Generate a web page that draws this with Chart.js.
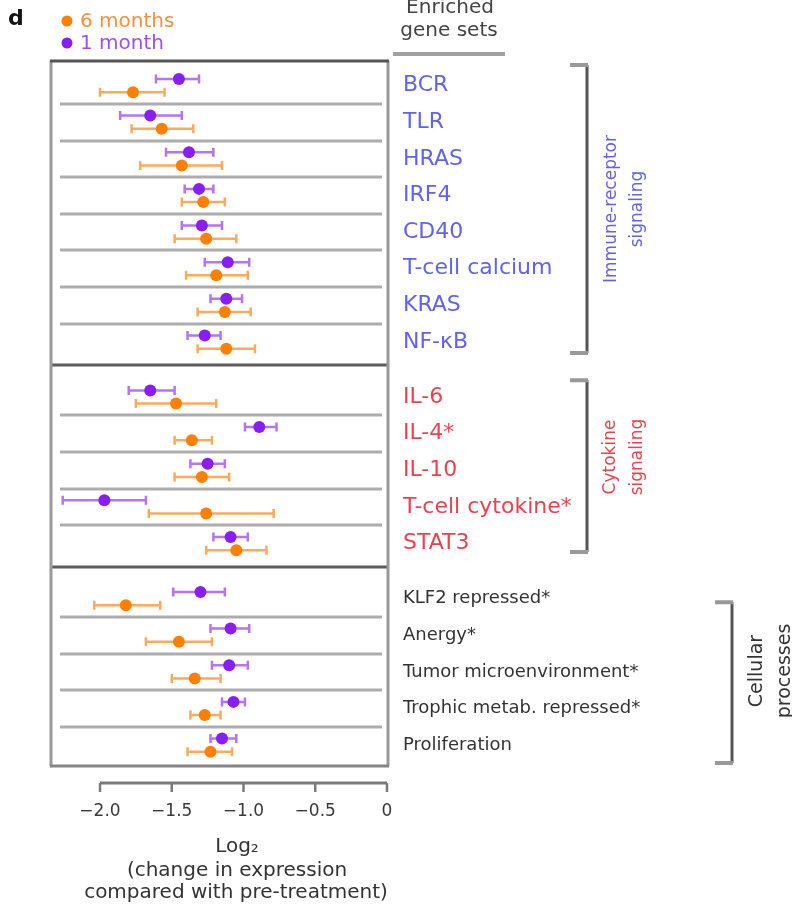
<!DOCTYPE html>
<html>
<head>
<meta charset="utf-8">
<script src="https://cdn.jsdelivr.net/npm/chart.js@4/dist/chart.umd.min.js"></script>
<style>
  html, body { margin: 0; padding: 0; background: #fff; }
  canvas { display: block; }
</style>
</head>
<body>
<canvas id="c" width="792" height="906"></canvas>
<script>
// Enriched gene sets, top to bottom, grouped by pathway family
const geneSets = ['BCR', 'TLR', 'HRAS', 'IRF4', 'CD40', 'T-cell calcium', 'KRAS', 'NF-κB',
  'IL-6', 'IL-4*', 'IL-10', 'T-cell cytokine*', 'STAT3',
  'KLF2 repressed*', 'Anergy*', 'Tumor microenvironment*', 'Trophic metab. repressed*', 'Proliferation'];
const groupNames = [['Immune-receptor', 'signaling'], ['Cytokine', 'signaling'], ['Cellular', 'processes']];
const groupSizes = [8, 5, 5];
const seriesNames = ['6 months', '1 month'];

// Log2 change vs pre-treatment: mean with lower / upper interval bounds
const sixMonthMean = [-1.77, -1.57, -1.43, -1.28, -1.26, -1.19, -1.13, -1.12,
  -1.47, -1.36, -1.29, -1.26, -1.05,
  -1.82, -1.45, -1.34, -1.27, -1.23];
const sixMonthLow = [-2.00, -1.78, -1.72, -1.43, -1.48, -1.40, -1.32, -1.32,
  -1.75, -1.48, -1.48, -1.66, -1.26,
  -2.04, -1.68, -1.50, -1.37, -1.39];
const sixMonthHigh = [-1.55, -1.35, -1.15, -1.13, -1.05, -0.97, -0.95, -0.92,
  -1.19, -1.22, -1.10, -0.79, -0.84,
  -1.58, -1.22, -1.16, -1.16, -1.08];
const oneMonthMean = [-1.45, -1.65, -1.38, -1.31, -1.29, -1.11, -1.12, -1.27,
  -1.65, -0.89, -1.25, -1.97, -1.09,
  -1.30, -1.09, -1.10, -1.07, -1.15];
const oneMonthLow = [-1.61, -1.86, -1.54, -1.41, -1.43, -1.27, -1.23, -1.39,
  -1.80, -0.99, -1.37, -2.26, -1.21,
  -1.49, -1.23, -1.22, -1.15, -1.23];
const oneMonthHigh = [-1.31, -1.43, -1.21, -1.21, -1.15, -0.96, -1.01, -1.16,
  -1.48, -0.77, -1.13, -1.68, -0.97,
  -1.13, -0.96, -0.97, -0.99, -1.05];
const xTickValues = [-2.0, -1.5, -1.0, -0.5, 0];

// ---- layout / styling ----
const FONT = "'DejaVu Sans', 'Liberation Sans', sans-serif";
const groupColors = ['#6262f2', '#f0404e', '#333333'];
const seriesColors = ['#ff8000', '#8a1cf5'];
const barColors = ['#ffaa5a', '#b374f7'];
const GROUP_GAP = 0.5;      // extra row units between group boxes
const PAIR_OFFSET = 0.18;   // vertical split of the two series inside a row

// row positions along the (reversed) y scale
const rowPos = [];
const rowGroup = [];
const groupFirst = [];
const groupLast = [];
{
  let p = 0;
  groupSizes.forEach((n, g) => {
    groupFirst.push(p);
    for (let i = 0; i < n; i++) { rowPos.push(p); rowGroup.push(g); p += 1; }
    groupLast.push(p - 1);
    p += GROUP_GAP;
  });
}
const yMin = rowPos[0] - 0.67;
const yMax = rowPos[rowPos.length - 1] + 0.57;

const means = [sixMonthMean, oneMonthMean];
const lows = [sixMonthLow, oneMonthLow];
const highs = [sixMonthHigh, oneMonthHigh];
const offsets = [PAIR_OFFSET, -PAIR_OFFSET];

const datasets = seriesNames.map((name, s) => ({
  label: name,
  data: means[s].map((v, i) => ({ x: v, y: rowPos[i] + offsets[s] })),
  backgroundColor: seriesColors[s],
  borderWidth: 0,
  pointRadius: 6,
  pointHoverRadius: 6,
  clip: false
}));

function fmtTick(v) {
  if (v === 0) return '0';
  return (v < 0 ? '\u2212' : '') + Math.abs(v).toFixed(1);
}

const panelPlugin = {
  id: 'panel',
  beforeDatasetsDraw(chart) {
    const { ctx, chartArea: a, scales: { x, y } } = chart;
    ctx.save();
    // thin separators between rows of the same group
    ctx.strokeStyle = '#adadad';
    ctx.lineWidth = 3;
    for (let i = 0; i < rowPos.length - 1; i++) {
      if (rowGroup[i] !== rowGroup[i + 1]) continue;
      const py = Math.round(y.getPixelForValue((rowPos[i] + rowPos[i + 1]) / 2));
      ctx.beginPath();
      ctx.moveTo(a.left + 9, py);
      ctx.lineTo(a.right - 5, py);
      ctx.stroke();
    }
    // dividers between groups
    ctx.strokeStyle = '#5c5c5c';
    for (let g = 0; g < groupSizes.length - 1; g++) {
      const py = Math.round(y.getPixelForValue(groupLast[g] + 0.64));
      ctx.beginPath();
      ctx.moveTo(a.left, py);
      ctx.lineTo(a.right + 1, py);
      ctx.stroke();
    }
    // outer frame
    ctx.strokeStyle = '#9a9a9a';
    ctx.beginPath();
    ctx.moveTo(a.left, a.top); ctx.lineTo(a.left, a.bottom);
    ctx.moveTo(a.right + 1, a.top); ctx.lineTo(a.right + 1, a.bottom);
    ctx.stroke();
    ctx.strokeStyle = '#555';
    ctx.beginPath();
    ctx.moveTo(a.left - 1, a.top); ctx.lineTo(a.right + 2, a.top);
    ctx.stroke();
    ctx.strokeStyle = '#858585';
    ctx.beginPath();
    ctx.moveTo(a.left - 1, a.bottom); ctx.lineTo(a.right + 2, a.bottom);
    ctx.stroke();

    // error bars with caps
    chart.data.datasets.forEach((ds, s) => {
      const meta = chart.getDatasetMeta(s);
      ctx.strokeStyle = barColors[s];
      ctx.lineWidth = 2.5;
      meta.data.forEach((pt, i) => {
        const x0 = x.getPixelForValue(lows[s][i]);
        const x1 = x.getPixelForValue(highs[s][i]);
        const py = pt.y;
        ctx.beginPath();
        ctx.moveTo(x0, py); ctx.lineTo(x1, py);
        ctx.moveTo(x0, py - 4.5); ctx.lineTo(x0, py + 4.5);
        ctx.moveTo(x1, py - 4.5); ctx.lineTo(x1, py + 4.5);
        ctx.stroke();
      });
    });
    ctx.restore();
  },
  afterDraw(chart) {
    const { ctx, chartArea: a, scales: { x, y } } = chart;
    ctx.save();

    // panel letter
    ctx.fillStyle = '#111';
    ctx.font = `bold 22px ${FONT}`;
    ctx.textAlign = 'left';
    ctx.textBaseline = 'alphabetic';
    ctx.fillText('d', 8, 25);

    // legend
    const legendY = [21, 43];
    const legendText = ['#ff8f3c', '#a24cf5'];
    seriesNames.forEach((name, s) => {
      ctx.fillStyle = seriesColors[s];
      ctx.beginPath();
      ctx.arc(67, legendY[s], 5.5, 0, Math.PI * 2);
      ctx.fill();
      ctx.fillStyle = legendText[s];
      ctx.font = `20px ${FONT}`;
      ctx.textBaseline = 'middle';
      ctx.fillText(name, 80, legendY[s] + 1);
    });

    // column header
    ctx.fillStyle = '#444';
    ctx.font = `20px ${FONT}`;
    ctx.textAlign = 'center';
    ctx.textBaseline = 'alphabetic';
    ctx.fillText('Enriched', 450, 13);
    ctx.fillText('gene sets', 449, 36);
    ctx.strokeStyle = '#a0a0a0';
    ctx.lineWidth = 4;
    ctx.beginPath();
    ctx.moveTo(393, 54); ctx.lineTo(505, 54);
    ctx.stroke();

    // x axis line and tick marks
    const axY = 783;
    ctx.strokeStyle = '#7a7a7a';
    ctx.lineWidth = 3;
    ctx.beginPath();
    ctx.moveTo(x.getPixelForValue(xTickValues[0]), axY);
    ctx.lineTo(x.getPixelForValue(xTickValues[xTickValues.length - 1]), axY);
    ctx.stroke();
    ctx.lineWidth = 2.5;
    xTickValues.forEach(v => {
      const px = x.getPixelForValue(v);
      ctx.beginPath();
      ctx.moveTo(px, axY); ctx.lineTo(px, axY + 9);
      ctx.stroke();
    });

    // x axis title
    ctx.fillStyle = '#333';
    ctx.font = `20px ${FONT}`;
    ctx.textAlign = 'center';
    ctx.fillText('Log\u2082', 237, 852);
    ctx.fillText('(change in expression', 237, 876);
    ctx.fillText('compared with pre-treatment)', 236, 898);

    // group brackets with rotated captions
    const brackets = [
      { x: 587, arm: 17, top: -0.56, bottom: 0.30, cols: [612, 638], cy: 209, size: 17 },
      { x: 587, arm: 17, top: -0.46, bottom: 0.23, cols: [611, 638], cy: 457, size: 17 },
      { x: 732, arm: 17, top: 0.10, bottom: 0.49, cols: [757, 785], cy: 671, size: 19 }
    ];
    brackets.forEach((b, g) => {
      const y0 = y.getPixelForValue(groupFirst[g] + b.top);
      const y1 = y.getPixelForValue(groupLast[g] + b.bottom);
      ctx.strokeStyle = '#555';
      ctx.lineWidth = 3;
      ctx.beginPath();
      ctx.moveTo(b.x, y0); ctx.lineTo(b.x, y1);
      ctx.stroke();
      ctx.strokeStyle = '#999';
      ctx.lineWidth = 4;
      ctx.beginPath();
      ctx.moveTo(b.x - b.arm, y0); ctx.lineTo(b.x + 1, y0);
      ctx.moveTo(b.x - b.arm, y1); ctx.lineTo(b.x + 1, y1);
      ctx.stroke();

      ctx.fillStyle = groupColors[g];
      ctx.font = `${b.size}px ${FONT}`;
      ctx.textAlign = 'center';
      ctx.textBaseline = 'middle';
      groupNames[g].forEach((line, k) => {
        ctx.save();
        ctx.translate(b.cols[k], b.cy);
        ctx.rotate(-Math.PI / 2);
        ctx.fillText(line, 0, 0);
        ctx.restore();
      });
    });
    ctx.restore();
  }
};

new Chart(document.getElementById('c'), {
  type: 'scatter',
  data: { datasets },
  options: {
    responsive: false,
    devicePixelRatio: 1,
    animation: false,
    events: [],
    layout: { padding: { top: 61, left: 51, right: 0, bottom: 0 } },
    plugins: { legend: { display: false }, tooltip: { enabled: false } },
    scales: {
      x: {
        type: 'linear',
        min: -2.3415,
        max: 0,
        position: 'bottom',
        grid: { display: false },
        border: { display: false },
        afterBuildTicks: s => { s.ticks = xTickValues.map(v => ({ value: v })); },
        afterFit: s => { s.height = 140; },
        ticks: {
          autoSkip: false,
          maxRotation: 0,
          padding: 27,
          color: '#3a3a3a',
          font: { family: FONT, size: 17 },
          callback: v => fmtTick(v)
        }
      },
      y: {
        type: 'linear',
        position: 'right',
        reverse: true,
        min: yMin,
        max: yMax,
        grid: { display: false },
        border: { display: false },
        afterBuildTicks: s => { s.ticks = rowPos.map(v => ({ value: v })); },
        afterFit: s => { s.width = 405; },
        ticks: {
          autoSkip: false,
          padding: 8,
          color: c => groupColors[rowGroup[c.index]],
          font: c => ({ family: FONT, size: rowGroup[c.index] === 2 ? 18 : 22 }),
          callback: (v, i) => geneSets[i]
        }
      }
    }
  },
  plugins: [panelPlugin]
});
</script>
</body>
</html>
